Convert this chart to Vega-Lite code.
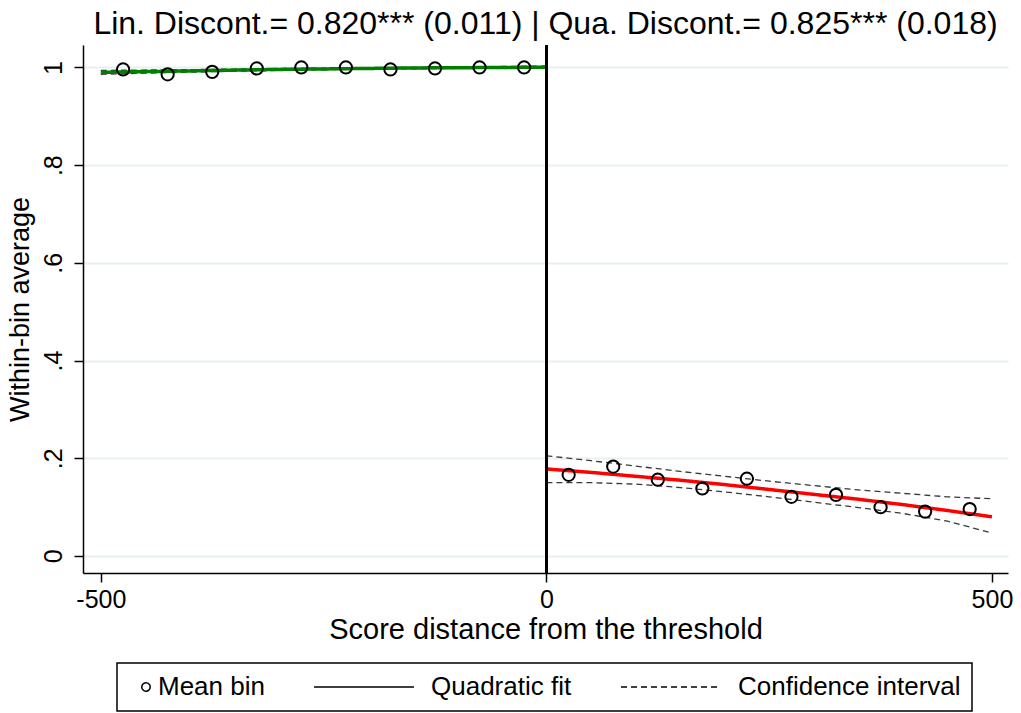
{
  "$schema": "https://vega.github.io/schema/vega-lite/v6.json",
  "width": 925,
  "height": 528,
  "autosize": {"type": "none"},
  "padding": {"left": 83, "top": 45, "right": 13, "bottom": 140},
  "background": "white",
  "config": {
    "font": "Liberation Sans",
    "view": {"stroke": null},
    "axis": {"labelColor": "black", "titleColor": "black", "domainColor": "black", "tickColor": "black", "titleFontWeight": "normal"}
  },
  "title": {"text": "Lin. Discont.= 0.820*** (0.011) | Qua. Discont.= 0.825*** (0.018)", "fontSize": 32, "fontWeight": "normal", "color": "black", "anchor": "middle", "offset": 3},
  "data": {"values": [
    {"x": -475, "y": 0.996, "series": "Mean bin", "grp": "pts"},
    {"x": -425, "y": 0.986, "series": "Mean bin", "grp": "pts"},
    {"x": -375, "y": 0.991, "series": "Mean bin", "grp": "pts"},
    {"x": -325, "y": 0.998, "series": "Mean bin", "grp": "pts"},
    {"x": -275, "y": 1.0, "series": "Mean bin", "grp": "pts"},
    {"x": -225, "y": 1.0, "series": "Mean bin", "grp": "pts"},
    {"x": -175, "y": 0.996, "series": "Mean bin", "grp": "pts"},
    {"x": -125, "y": 0.998, "series": "Mean bin", "grp": "pts"},
    {"x": -75, "y": 1.0, "series": "Mean bin", "grp": "pts"},
    {"x": -25, "y": 1.0, "series": "Mean bin", "grp": "pts"},
    {"x": 25, "y": 0.166, "series": "Mean bin", "grp": "pts"},
    {"x": 75, "y": 0.183, "series": "Mean bin", "grp": "pts"},
    {"x": 125, "y": 0.156, "series": "Mean bin", "grp": "pts"},
    {"x": 175, "y": 0.138, "series": "Mean bin", "grp": "pts"},
    {"x": 225, "y": 0.158, "series": "Mean bin", "grp": "pts"},
    {"x": 275, "y": 0.121, "series": "Mean bin", "grp": "pts"},
    {"x": 325, "y": 0.125, "series": "Mean bin", "grp": "pts"},
    {"x": 375, "y": 0.0997, "series": "Mean bin", "grp": "pts"},
    {"x": 425, "y": 0.0907, "series": "Mean bin", "grp": "pts"},
    {"x": 475, "y": 0.096, "series": "Mean bin", "grp": "pts"},

    {"x": -500, "y": 0.990, "series": "Quadratic fit", "grp": "fit-left"},
    {"x": -450, "y": 0.9915, "series": "Quadratic fit", "grp": "fit-left"},
    {"x": -400, "y": 0.993, "series": "Quadratic fit", "grp": "fit-left"},
    {"x": -350, "y": 0.9945, "series": "Quadratic fit", "grp": "fit-left"},
    {"x": -300, "y": 0.996, "series": "Quadratic fit", "grp": "fit-left"},
    {"x": -250, "y": 0.997, "series": "Quadratic fit", "grp": "fit-left"},
    {"x": -200, "y": 0.998, "series": "Quadratic fit", "grp": "fit-left"},
    {"x": -150, "y": 0.999, "series": "Quadratic fit", "grp": "fit-left"},
    {"x": -100, "y": 0.9995, "series": "Quadratic fit", "grp": "fit-left"},
    {"x": -50, "y": 1.000, "series": "Quadratic fit", "grp": "fit-left"},
    {"x": 0, "y": 1.0005, "series": "Quadratic fit", "grp": "fit-left"},

    {"x": 0, "y": 0.178, "series": "Quadratic fit", "grp": "fit-right"},
    {"x": 50, "y": 0.171, "series": "Quadratic fit", "grp": "fit-right"},
    {"x": 100, "y": 0.163, "series": "Quadratic fit", "grp": "fit-right"},
    {"x": 150, "y": 0.155, "series": "Quadratic fit", "grp": "fit-right"},
    {"x": 200, "y": 0.146, "series": "Quadratic fit", "grp": "fit-right"},
    {"x": 250, "y": 0.136, "series": "Quadratic fit", "grp": "fit-right"},
    {"x": 300, "y": 0.126, "series": "Quadratic fit", "grp": "fit-right"},
    {"x": 350, "y": 0.116, "series": "Quadratic fit", "grp": "fit-right"},
    {"x": 400, "y": 0.105, "series": "Quadratic fit", "grp": "fit-right"},
    {"x": 450, "y": 0.093, "series": "Quadratic fit", "grp": "fit-right"},
    {"x": 500, "y": 0.080, "series": "Quadratic fit", "grp": "fit-right"},

    {"x": -500, "y": 0.994, "series": "Confidence interval", "grp": "ci-left-upper"},
    {"x": -400, "y": 0.9955, "series": "Confidence interval", "grp": "ci-left-upper"},
    {"x": -300, "y": 0.998, "series": "Confidence interval", "grp": "ci-left-upper"},
    {"x": -200, "y": 0.9995, "series": "Confidence interval", "grp": "ci-left-upper"},
    {"x": -100, "y": 1.001, "series": "Confidence interval", "grp": "ci-left-upper"},
    {"x": 0, "y": 1.003, "series": "Confidence interval", "grp": "ci-left-upper"},
    {"x": -500, "y": 0.986, "series": "Confidence interval", "grp": "ci-left-lower"},
    {"x": -400, "y": 0.9905, "series": "Confidence interval", "grp": "ci-left-lower"},
    {"x": -300, "y": 0.994, "series": "Confidence interval", "grp": "ci-left-lower"},
    {"x": -200, "y": 0.9965, "series": "Confidence interval", "grp": "ci-left-lower"},
    {"x": -100, "y": 0.998, "series": "Confidence interval", "grp": "ci-left-lower"},
    {"x": 0, "y": 0.998, "series": "Confidence interval", "grp": "ci-left-lower"},

    {"x": 0, "y": 0.205, "series": "Confidence interval", "grp": "ci-right-upper"},
    {"x": 50, "y": 0.195, "series": "Confidence interval", "grp": "ci-right-upper"},
    {"x": 100, "y": 0.184, "series": "Confidence interval", "grp": "ci-right-upper"},
    {"x": 150, "y": 0.173, "series": "Confidence interval", "grp": "ci-right-upper"},
    {"x": 200, "y": 0.163, "series": "Confidence interval", "grp": "ci-right-upper"},
    {"x": 250, "y": 0.153, "series": "Confidence interval", "grp": "ci-right-upper"},
    {"x": 300, "y": 0.144, "series": "Confidence interval", "grp": "ci-right-upper"},
    {"x": 350, "y": 0.135, "series": "Confidence interval", "grp": "ci-right-upper"},
    {"x": 400, "y": 0.128, "series": "Confidence interval", "grp": "ci-right-upper"},
    {"x": 450, "y": 0.121, "series": "Confidence interval", "grp": "ci-right-upper"},
    {"x": 500, "y": 0.117, "series": "Confidence interval", "grp": "ci-right-upper"},
    {"x": 0, "y": 0.150, "series": "Confidence interval", "grp": "ci-right-lower"},
    {"x": 50, "y": 0.150, "series": "Confidence interval", "grp": "ci-right-lower"},
    {"x": 100, "y": 0.147, "series": "Confidence interval", "grp": "ci-right-lower"},
    {"x": 150, "y": 0.140, "series": "Confidence interval", "grp": "ci-right-lower"},
    {"x": 200, "y": 0.131, "series": "Confidence interval", "grp": "ci-right-lower"},
    {"x": 250, "y": 0.121, "series": "Confidence interval", "grp": "ci-right-lower"},
    {"x": 300, "y": 0.110, "series": "Confidence interval", "grp": "ci-right-lower"},
    {"x": 350, "y": 0.099, "series": "Confidence interval", "grp": "ci-right-lower"},
    {"x": 400, "y": 0.087, "series": "Confidence interval", "grp": "ci-right-lower"},
    {"x": 450, "y": 0.071, "series": "Confidence interval", "grp": "ci-right-lower"},
    {"x": 500, "y": 0.047, "series": "Confidence interval", "grp": "ci-right-lower"}
  ]},
  "layer": [
    {
      "transform": [{"filter": "datum.series == 'Confidence interval'"}],
      "mark": {"type": "line", "color": "#3a3a3a", "strokeWidth": 1.3},
      "encoding": {
        "x": {"field": "x", "type": "quantitative", "title": "Score distance from the threshold",
          "scale": {"domain": [-520, 518], "nice": false, "zero": false},
          "axis": {"values": [-500, 0, 500], "grid": false, "tickSize": 9, "tickWidth": 1.5, "domainWidth": 1.5, "labelFontSize": 25, "labelPadding": 5, "labelFlush": false, "labelExpr": "datum.value < 0 ? '-' + abs(datum.value) : '' + datum.value", "titleFontSize": 29, "titlePadding": 3}},
        "y": {"field": "y", "type": "quantitative", "title": "Within-bin average",
          "scale": {"domain": [-0.035, 1.046], "nice": false, "zero": false},
          "axis": {"values": [0, 0.2, 0.4, 0.6, 0.8, 1], "grid": true, "gridColor": "#e8f0f2", "gridWidth": 2, "tickSize": 9, "tickWidth": 1.5, "domainWidth": 1.5, "labelFontSize": 25, "labelAngle": -90, "labelAlign": "center", "labelBaseline": "bottom", "labelPadding": 8, "labelFlush": false, "labelExpr": "datum.value == 0 ? '0' : datum.value == 1 ? '1' : replace(format(datum.value, '.1f'), '0.', '.')", "titleFontSize": 27, "titlePadding": 7}},
        "detail": {"field": "grp"},
        "strokeDash": {"field": "series", "type": "nominal",
          "scale": {"domain": ["Mean bin", "Quadratic fit", "Confidence interval"], "range": [[1, 0], [1, 0], [6, 4]]},
          "legend": {
            "title": null, "orient": "none", "legendX": 34, "legendY": 618, "direction": "horizontal",
            "padding": 11, "columnPadding": 46, "strokeColor": "black", "fillColor": "white",
            "labelFontSize": 26, "labelColor": "black", "labelLimit": 0,
            "symbolStrokeColor": "black", "symbolStrokeWidth": 1.5, "symbolFillColor": "transparent",
            "encode": {
              "legend": {"update": {"strokeWidth": {"value": 1.5}}},
              "entries": {"update": {"width": {"value": 1}, "height": {"value": 26}}},
              "symbols": {"update": {
                "shape": {"signal": "(datum.value == 'Mean bin' ? 'circle' : 'stroke')"},
                "size": {"signal": "(datum.value == 'Mean bin' ? 70 : 10000)"},
                "x": {"signal": "(datum.value == 'Mean bin' ? 18 : 50)"},
                "y": {"value": 13},
                "stroke": {"value": "black"},
                "fill": {"value": "transparent"},
                "opacity": {"value": 1}
              }},
              "labels": {"update": {
                "x": {"signal": "(datum.value == 'Mean bin' ? 30 : 117)"},
                "y": {"value": 13}
              }}
            }
          }}
      }
    },
    {
      "transform": [{"filter": "datum.grp == 'fit-left'"}],
      "mark": {"type": "line", "color": "#007f00", "strokeWidth": 3.5},
      "encoding": {
        "x": {"field": "x", "type": "quantitative", "title": "Score distance from the threshold"},
        "y": {"field": "y", "type": "quantitative", "title": "Within-bin average"},
        "strokeDash": {"field": "series", "type": "nominal"}
      }
    },
    {
      "transform": [{"filter": "datum.grp == 'fit-right'"}],
      "mark": {"type": "line", "color": "#ff0000", "strokeWidth": 3.5},
      "encoding": {
        "x": {"field": "x", "type": "quantitative", "title": "Score distance from the threshold"},
        "y": {"field": "y", "type": "quantitative", "title": "Within-bin average"},
        "strokeDash": {"field": "series", "type": "nominal"}
      }
    },
    {
      "mark": {"type": "rule", "color": "black", "strokeWidth": 2},
      "encoding": {"x": {"datum": 0, "type": "quantitative"}}
    },
    {
      "transform": [{"filter": "datum.series == 'Mean bin'"}],
      "mark": {"type": "point", "shape": "circle", "filled": false, "stroke": "black", "strokeWidth": 2, "size": 150, "opacity": 1},
      "encoding": {
        "x": {"field": "x", "type": "quantitative", "title": "Score distance from the threshold"},
        "y": {"field": "y", "type": "quantitative", "title": "Within-bin average"}
      }
    }
  ]
}
